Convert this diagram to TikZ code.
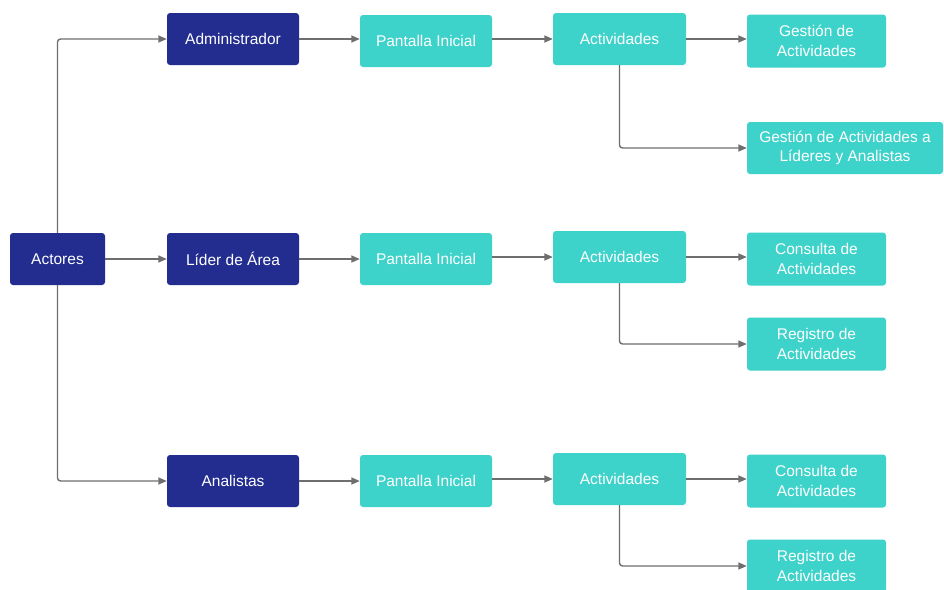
\documentclass[tikz,border=0pt]{standalone}
\usepackage{fontspec}
\setmainfont{Liberation Sans}
\usetikzlibrary{arrows.meta}
\definecolor{navybox}{HTML}{222D8F}
\definecolor{tealbox}{HTML}{3DD2CA}
\definecolor{linkgray}{HTML}{6E6E6E}
\tikzset{
  actorbox/.style={fill=navybox, rounded corners=3pt, minimum width=132pt,
    minimum height=52pt, text=white, inner sep=0pt, align=center,
    font=\fontsize{15.5}{19.5}\selectfont},
  screenbox/.style={actorbox, fill=tealbox},
  optionbox/.style={screenbox, minimum width=139pt, minimum height=53pt},
  link/.style={draw=linkgray, line width=1.4pt, rounded corners=3pt,
    -{Triangle[length=8.5pt,width=7pt]}}
}
\begin{document}
\begin{tikzpicture}[x=1pt,y=-1pt]
\useasboundingbox (0,0) rectangle (944,589);
\fill[white] (0,0) rectangle (944,589);

% actors
\node[actorbox, minimum width=95pt] (actores) at (57.5,259) {Actores};
\node[actorbox] (admin) at (233,39) {Administrador};
\node[actorbox] (lider) at (233,259) {Líder de Área};
\node[actorbox] (analistas) at (233,481) {Analistas};

% home screens
\node[screenbox] (pant1) at (426,41) {Pantalla Inicial};
\node[screenbox] (pant2) at (426,259) {Pantalla Inicial};
\node[screenbox] (pant3) at (426,481) {Pantalla Inicial};

% activity menus
\node[screenbox, minimum width=133pt] (act1) at (619.5,39) {Actividades};
\node[screenbox, minimum width=133pt] (act2) at (619.5,257) {Actividades};
\node[screenbox, minimum width=133pt] (act3) at (619.5,479) {Actividades};

% options
\node[optionbox] (ges1) at (816.5,41) {Gestión de\\Actividades};
\node[optionbox, minimum width=196pt, minimum height=52pt] (gesl) at (845,148) {Gestión de Actividades a\\Líderes y Analistas};
\node[optionbox] (con2) at (816.5,259) {Consulta de\\Actividades};
\node[optionbox] (reg2) at (816.5,344) {Registro de\\Actividades};
\node[optionbox] (con3) at (816.5,481) {Consulta de\\Actividades};
\node[optionbox] (reg3) at (816.5,566) {Registro de\\Actividades};

% connectors
\draw[link] (actores.north) |- (admin.west);
\draw[link] (actores.east) -- (lider.west);
\draw[link] (actores.south) |- (analistas.west);

\draw[link] (admin.east) -- (pant1.west |- admin.east);
\draw[link] (lider.east) -- (pant2.west);
\draw[link] (analistas.east) -- (pant3.west);

\draw[link] (pant1.east |- act1.east) -- (act1.west);
\draw[link] (pant2.east |- act2.east) -- (act2.west);
\draw[link] (pant3.east |- act3.east) -- (act3.west);

\draw[link] (act1.east) -- (ges1.west |- act1.east);
\draw[link] (act1.south) |- (gesl.west);
\draw[link] (act2.east) -- (con2.west |- act2.east);
\draw[link] (act2.south) |- (reg2.west);
\draw[link] (act3.east) -- (con3.west |- act3.east);
\draw[link] (act3.south) |- (reg3.west);
\end{tikzpicture}
\end{document}
